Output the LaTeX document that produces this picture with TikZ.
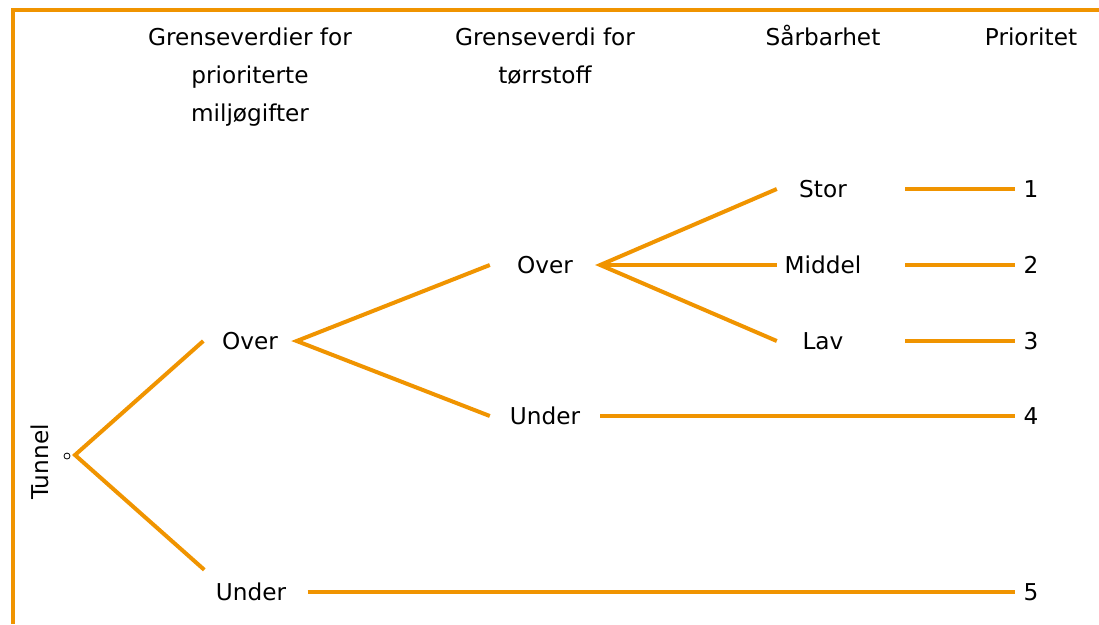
\documentclass[tikz,border=0pt]{standalone}
\usepackage{fontspec}
\setmainfont{DejaVu Sans}
\definecolor{orangeline}{RGB}{240,148,0}
\begin{document}
\begin{tikzpicture}[x=1pt,y=-1pt,font=\fontsize{23.2}{38}\selectfont,
        branch/.style={draw=orangeline,line width=4pt},
        head/.style={align=center,anchor=base},
        niva1/.style={minimum width=93pt,minimum height=44pt,inner sep=0pt},
        niva2/.style={minimum width=110pt,inner sep=0pt},
        niva3/.style={minimum width=92pt,inner sep=0pt},
        prio/.style={minimum width=32pt,inner sep=0pt}]
        \useasboundingbox (0,0) rectangle (1099,624);
        \draw[orangeline,line width=4pt] (1099,9.5) -- (12.5,9.5) -- (12.5,624);
        % kolonneoverskrifter (base = siste linje)
        \node[head] (hmiljo) at (250,121) {Grenseverdier for\\prioriterte\\miljøgifter};
        \node[head] (htorr) at (545,83) {Grenseverdi for\\tørrstoff};
        \node[head] (hsaar) at (823,45) {Sårbarhet};
        \node[head] (hprio) at (1031,45) {Prioritet};
        \node[rotate=90] (tunnel) at (40,462) {Tunnel};
        \node[circle,draw,line width=0.8pt,inner sep=0pt,minimum size=6pt] (ring) at (67,456) {};
        \coordinate (root) at (75,455);
        \node[niva1] (over1) at (250,341) {Over};
        \node[niva1] (under1) at (251,592) {Under};
        \node[niva2] (over2) at (545,265) {Over};
        \node[niva2] (under2) at (545,416) {Under};
        \node[niva3] (stor) at (823,189) {Stor};
        \node[niva3] (middel) at (823,265) {Middel};
        \node[niva3] (lav) at (823,341) {Lav};
        \node[prio] (p1) at (1031,189) {1};
        \node[prio] (p2) at (1031,265) {2};
        \node[prio] (p3) at (1031,341) {3};
        \node[prio] (p4) at (1031,416) {4};
        \node[prio] (p5) at (1031,592) {5};
        \draw[branch] (over1.west) -- (root) -- (under1.north west);
        \draw[branch] (over2.west) -- (over1.east) -- (under2.west);
        \draw[branch] (stor.west) -- (over2.east) -- (lav.west);
        \draw[branch] (over2.east) -- (middel.west);
        \draw[branch,shorten <=36pt] (stor.east) -- (p1.west);
        \draw[branch,shorten <=36pt] (middel.east) -- (p2.west);
        \draw[branch,shorten <=36pt] (lav.east) -- (p3.west);
        \draw[branch] (under2.east) -- (p4.west);
        \draw[branch,shorten <=10pt] (under1.east) -- (p5.west);
\end{tikzpicture}
\end{document}
